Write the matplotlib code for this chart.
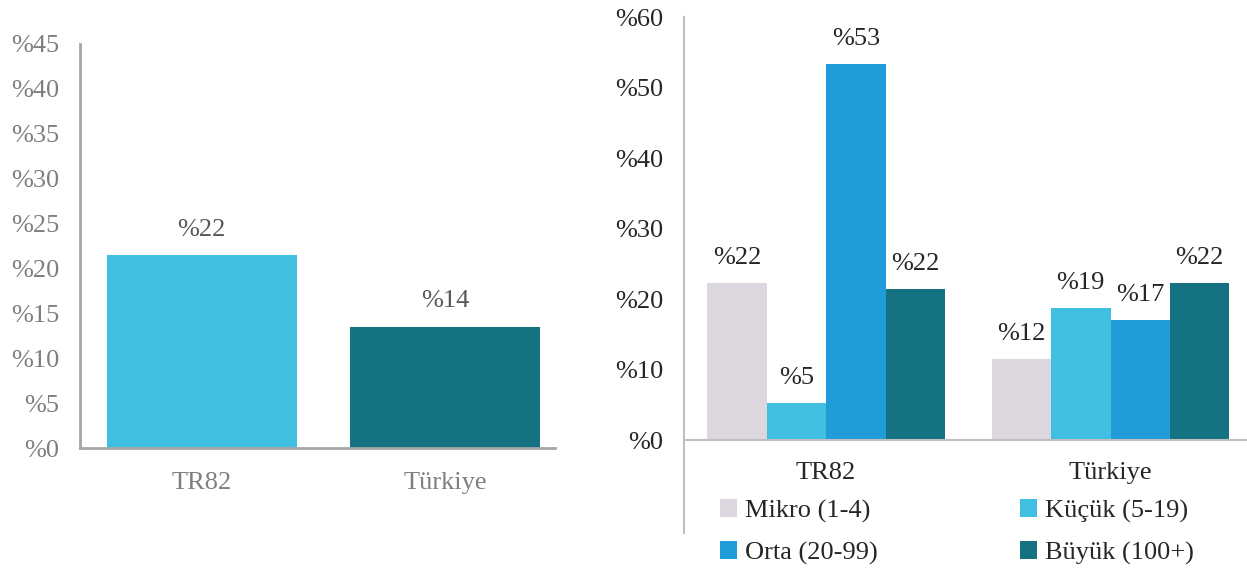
import numpy as np
import matplotlib.pyplot as plt
from matplotlib.lines import Line2D

plt.rcParams['font.family'] = ['Liberation Serif', 'DejaVu Serif']

# left chart data
regions = ["TR82", "Türkiye"]
share = [21.5, 13.5]
share_lbl = ["%22", "%14"]
share_colors = ["#40BFE0", "#147282"]

# right chart data
sizes = ["Mikro (1-4)", "Küçük (5-19)", "Orta (20-99)", "Büyük (100+)"]
size_colors = ["#DCD6DE", "#40BFE0", "#209CD8", "#147282"]
tr82 = [22.3, 5.3, 53.3, 21.4]
turkiye = [11.5, 18.7, 17.0, 22.3]
tr82_lbl = ["%22", "%5", "%53", "%22"]
turkiye_lbl = ["%12", "%19", "%17", "%22"]

fs = 19
fig = plt.figure(figsize=(12.47, 5.7), dpi=100)

# ---- left chart
ax1 = fig.add_axes([0.064, 0.214, 0.381, 0.709])
x = np.arange(len(regions))
ax1.bar(x, share, width=0.78, color=share_colors)
for xi, v, l in zip(x, share, share_lbl):
    ax1.text(xi, v + 1.6, l, ha="center", va="bottom", fontsize=fs, color="#595959")
ax1.set_ylim(0, 45)
ax1.set_xlim(-0.5, 1.45)
ax1.set_yticks(np.arange(0, 46, 5))
ax1.set_yticklabels(["%" + str(t) for t in range(0, 46, 5)])
ax1.set_xticks(x)
ax1.set_xticklabels(regions)
ax1.tick_params(length=0, labelsize=fs, labelcolor="#7f7f7f", pad=15)
ax1.tick_params(axis="x", pad=17)
for s in ["top", "right"]:
    ax1.spines[s].set_visible(False)
for s in ["left", "bottom"]:
    ax1.spines[s].set_color("#a6a6a6")
    ax1.spines[s].set_linewidth(2)

# ---- right chart
ax2 = fig.add_axes([0.5485, 0.228, 0.4515, 0.742])
w = 0.209
g = np.arange(2)
for i in range(4):
    vals = [tr82[i], turkiye[i]]
    lbls = [tr82_lbl[i], turkiye_lbl[i]]
    xs = g + (i - 1.5) * w
    ax2.bar(xs, vals, width=w, color=size_colors[i], label=sizes[i])
    for xi, v, l in zip(xs, vals, lbls):
        ax2.text(xi, v + 2.0, l, ha="center", va="bottom", fontsize=fs, color="#262626")
ax2.set_ylim(0, 60)
ax2.set_xlim(-0.5, 1.48)
ax2.set_yticks(np.arange(0, 61, 10))
ax2.set_yticklabels(["%" + str(t) for t in range(0, 61, 10)])
ax2.set_xticks(g)
ax2.set_xticklabels(regions)
ax2.tick_params(length=0, labelsize=fs, labelcolor="#262626", pad=15)
ax2.tick_params(axis="x", pad=16)
for s in ["top", "right", "left"]:
    ax2.spines[s].set_visible(False)
ax2.spines["bottom"].set_color("#bfbfbf")
ax2.spines["bottom"].set_linewidth(1.5)
fig.add_artist(Line2D([0.5485, 0.5485], [0.065, 0.970], color="#bfbfbf", lw=1.5))

h, l = ax2.get_legend_handles_labels()
order = [0, 2, 1, 3]
fig.legend([h[i] for i in order], [l[i] for i in order], ncol=2,
           loc="upper left", bbox_to_anchor=(0.577, 0.124), frameon=False,
           fontsize=fs, handlelength=0.65, handleheight=0.65, handletextpad=0.3,
           columnspacing=5.4, labelspacing=0.7, borderaxespad=0, borderpad=0,
           labelcolor="#262626")

fig.savefig("out.png", dpi=100)
